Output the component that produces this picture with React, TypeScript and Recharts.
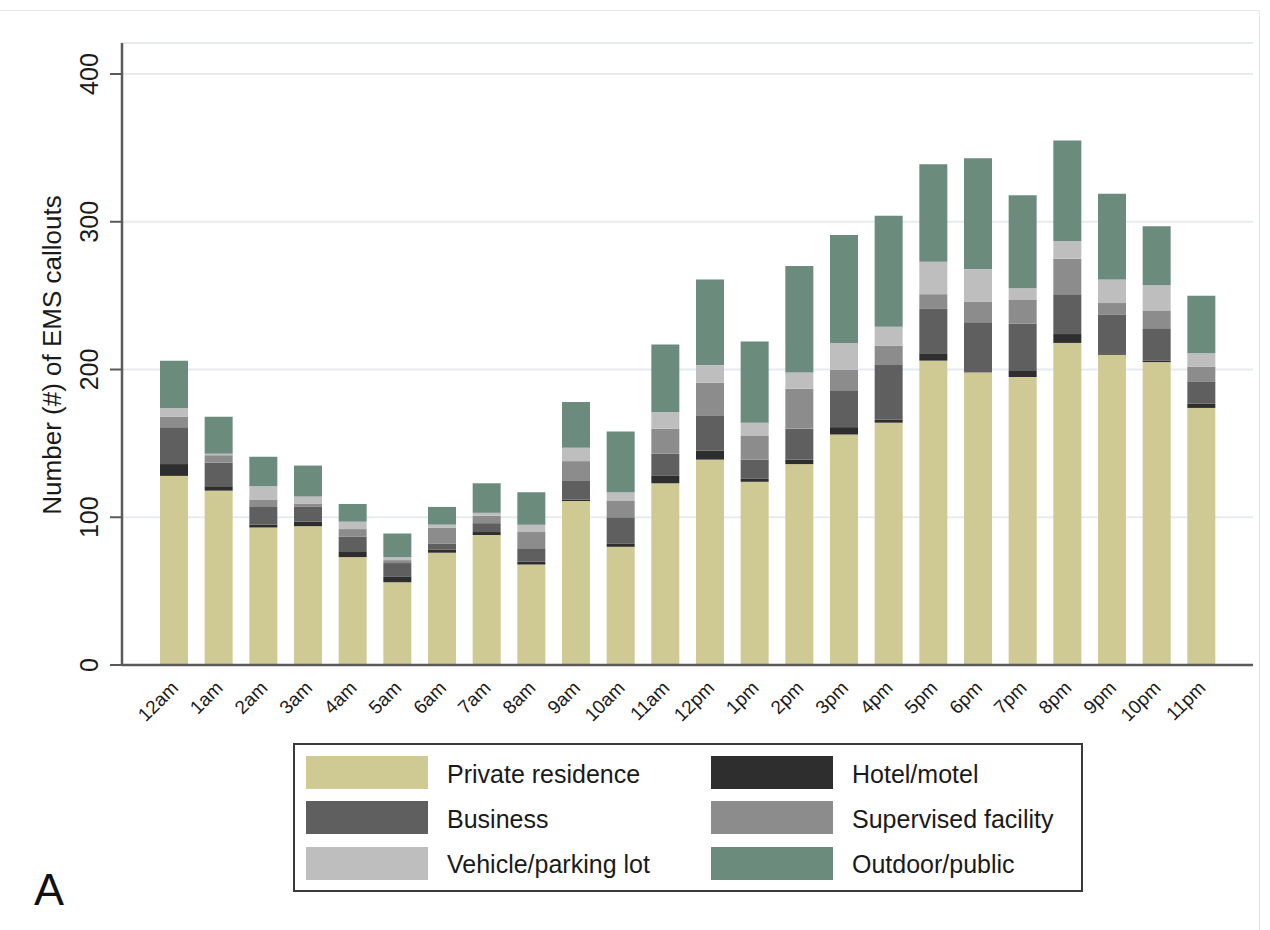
import { Bar, BarChart, CartesianGrid, Legend, XAxis, YAxis } from 'recharts';

const hours = [
  '12am', '1am', '2am', '3am', '4am', '5am', '6am', '7am', '8am', '9am', '10am', '11am',
  '12pm', '1pm', '2pm', '3pm', '4pm', '5pm', '6pm', '7pm', '8pm', '9pm', '10pm', '11pm',
];

const privateResidence = [128, 118, 93, 94, 73, 56, 76, 88, 68, 111, 80, 123, 139, 124, 136, 156, 164, 206, 198, 195, 218, 210, 205, 174];
const hotelMotel = [8, 3, 2, 3, 4, 4, 2, 2, 2, 1, 2, 5, 6, 2, 3, 5, 2, 5, 0, 4, 6, 1, 1, 3];
const business = [25, 16, 12, 10, 10, 9, 4, 6, 9, 13, 18, 15, 24, 13, 21, 25, 37, 30, 34, 32, 27, 26, 22, 15];
const supervisedFacility = [7, 5, 5, 2, 5, 2, 11, 5, 11, 13, 11, 17, 22, 16, 27, 14, 13, 10, 14, 16, 24, 8, 12, 10];
const vehicleParking = [6, 1, 9, 5, 5, 2, 2, 2, 5, 9, 6, 11, 12, 9, 11, 18, 13, 22, 22, 8, 12, 16, 17, 9];
const outdoorPublic = [32, 25, 20, 21, 12, 16, 12, 20, 22, 31, 41, 46, 58, 55, 72, 73, 75, 66, 75, 63, 68, 58, 40, 39];

const yTicks = [0, 100, 200, 300, 400];

// stacking order, bottom to top
const series = [
  { key: 'private', name: 'Private residence', color: '#cfc993', values: privateResidence },
  { key: 'hotel', name: 'Hotel/motel', color: '#2e2e2e', values: hotelMotel },
  { key: 'business', name: 'Business', color: '#5f5f5f', values: business },
  { key: 'supervised', name: 'Supervised facility', color: '#8c8c8c', values: supervisedFacility },
  { key: 'vehicle', name: 'Vehicle/parking lot', color: '#bebebe', values: vehicleParking },
  { key: 'outdoor', name: 'Outdoor/public', color: '#6b8b7c', values: outdoorPublic },
];

const rows = hours.map((hour, i) => {
  const row: Record<string, string | number> = { hour };
  series.forEach((s) => {
    row[s.key] = s.values[i];
  });
  return row;
});

const FONT = '"Liberation Sans", Arial, Helvetica, sans-serif';

function HourTick({ x, y, payload }: any) {
  return (
    <text
      transform={`translate(${x + 5},${y + 24}) rotate(-45)`}
      textAnchor="end"
      fontSize={19}
      fontFamily={FONT}
      fill="#1a1a1a"
    >
      {payload.value}
    </text>
  );
}

function CountTick({ x, y, payload }: any) {
  return (
    <text
      transform={`translate(${x - 12},${y}) rotate(-90)`}
      textAnchor="middle"
      fontSize={25}
      fontFamily={FONT}
      fill="#1a1a1a"
    >
      {payload.value}
    </text>
  );
}

function AxisTitle() {
  return (
    <text
      transform="translate(61,355) rotate(-90)"
      textAnchor="middle"
      fontSize={26}
      fontFamily={FONT}
      fill="#1a1a1a"
    >
      Number (#) of EMS callouts
    </text>
  );
}

// two-column legend, filled row by row in stacking order
function LegendBox() {
  return (
    <div
      style={{
        width: 786,
        height: 145,
        border: '2px solid #3a3a3a',
        background: '#fff',
        position: 'relative',
        fontFamily: FONT,
        fontSize: 25,
        color: '#1a1a1a',
      }}
    >
      {series.map((s, i) => {
        const col = i % 2;
        const row = Math.floor(i / 2);
        return (
          <div
            key={s.key}
            style={{
              position: 'absolute',
              left: 11 + col * 405,
              top: 11 + row * 45.3,
              height: 33,
              display: 'flex',
              alignItems: 'center',
              whiteSpace: 'nowrap',
            }}
          >
            <div style={{ width: 122, height: 33, background: s.color }} />
            <span style={{ marginLeft: 19, lineHeight: '33px', paddingTop: 3 }}>{s.name}</span>
          </div>
        );
      })}
    </div>
  );
}

export default function App() {
  return (
    <div style={{ position: 'absolute', left: 0, top: 0, width: 1270, height: 930, background: '#fff', overflow: 'hidden' }}>
      <div
        style={{
          position: 'absolute',
          left: -4,
          top: 10,
          width: 1262,
          height: 940,
          border: '1px solid #e6e6e6',
        }}
      />
      <BarChart
        width={1270}
        height={930}
        data={rows}
        margin={{ top: 43, right: 17, bottom: 235, left: 0 }}
      >
        <CartesianGrid vertical={false} stroke="#e4ecf0" strokeWidth={2} />
        <XAxis
          dataKey="hour"
          interval={0}
          height={30}
          padding={{ left: 30, right: 29 }}
          tickLine={false}
          tickSize={0}
          tickMargin={0}
          axisLine={{ stroke: '#5a5a5a', strokeWidth: 2.5 }}
          tick={<HourTick />}
        />
        <YAxis
          width={122}
          domain={[0, 421]}
          ticks={yTicks}
          tickSize={12}
          tickMargin={0}
          tickLine={{ stroke: '#5a5a5a', strokeWidth: 2 }}
          axisLine={{ stroke: '#5a5a5a', strokeWidth: 2.5 }}
          tick={<CountTick />}
          label={<AxisTitle />}
        />
        <Legend
          layout="horizontal"
          verticalAlign="middle"
          align="center"
          content={() => <LegendBox />}
          wrapperStyle={{ position: 'absolute', left: 293, top: 743, width: 790, height: 149 }}
        />
        {series.map((s) => (
          <Bar
            key={s.key}
            dataKey={s.key}
            name={s.name}
            stackId="place"
            fill={s.color}
            barSize={28}
            isAnimationActive={false}
          />
        ))}
      </BarChart>
      <div
        style={{
          position: 'absolute',
          left: 34,
          top: 867,
          fontFamily: FONT,
          fontSize: 45,
          lineHeight: '45px',
          color: '#111',
        }}
      >
        A
      </div>
    </div>
  );
}
